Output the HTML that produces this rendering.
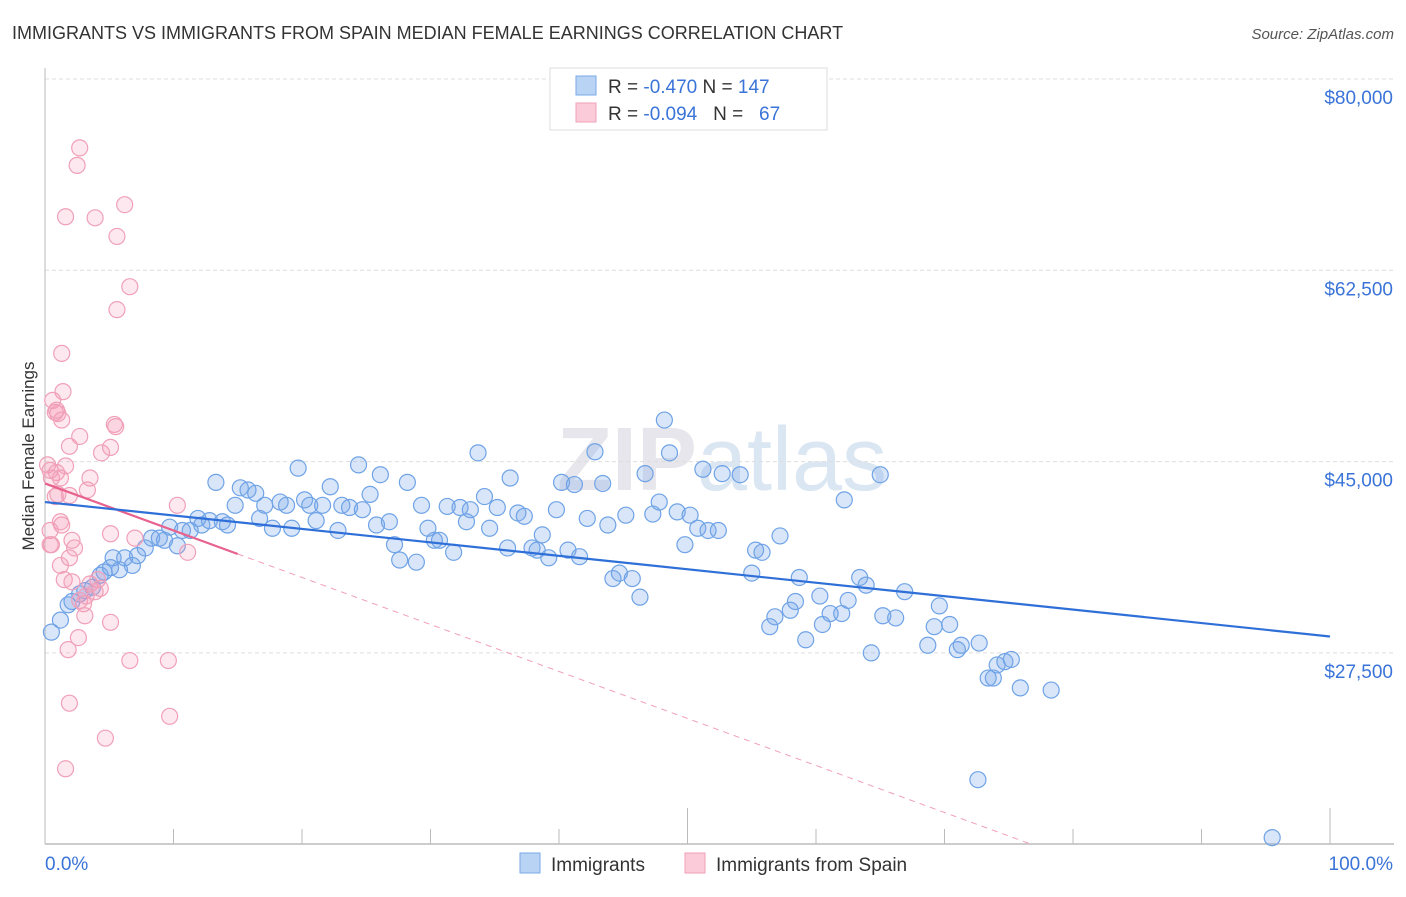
<!DOCTYPE html>
<html><head><meta charset="utf-8"><style>
body{margin:0;background:#fff;font-family:"Liberation Sans",sans-serif;}
svg text{font-family:"Liberation Sans",sans-serif;}
</style></head><body>
<svg id="chart" width="1406" height="892" xmlns="http://www.w3.org/2000/svg">
<text x="12" y="39" font-size="18" fill="#333">IMMIGRANTS VS IMMIGRANTS FROM SPAIN MEDIAN FEMALE EARNINGS CORRELATION CHART</text>
<text x="1394" y="39" font-size="15" fill="#555" text-anchor="end" font-style="italic">Source: ZipAtlas.com</text>
<text x="722" y="490" font-size="90" fill="#e6e6ec" text-anchor="middle" font-weight="bold">ZIP<tspan font-weight="normal" fill="#dbe6f3">atlas</tspan></text>
<text transform="translate(34,456) rotate(-90)" font-size="17" fill="#333" text-anchor="middle">Median Female Earnings</text>
<g id="grid"></g><g id="axes"></g><g id="marks"></g>
<g>
<rect x="550" y="68" width="277" height="62" fill="#fff" stroke="#ddd"/>
<rect x="576" y="76" width="20" height="19" fill="#b9d3f5" stroke="#7aaae8"/>
<text x="608" y="93" font-size="19" fill="#333">R = <tspan fill="#3a74d8">-0.470</tspan>   N = <tspan fill="#3a74d8">147</tspan></text>
<rect x="576" y="103" width="20" height="19" fill="#fbcbd9" stroke="#f0a0b8"/>
<text x="608" y="120" font-size="19" fill="#333" xml:space="preserve">R = <tspan fill="#3a74d8">-0.094</tspan>   N =   <tspan fill="#3a74d8">67</tspan></text>
</g>
<g>
<rect x="520" y="853" width="20" height="20" fill="#b9d3f5" stroke="#7aaae8"/>
<text x="551" y="871" font-size="19" fill="#333">Immigrants</text>
<rect x="685" y="853" width="20" height="20" fill="#fbcbd9" stroke="#f0a0b8"/>
<text x="716" y="871" font-size="19" fill="#333">Immigrants from Spain</text>
</g>
</svg>
<script>
const yTicks=[80000,62500,45000,27500];
const yTickLabels=["$80,000","$62,500","$45,000","$27,500"];
const xTickLabels=["0.0%","100.0%"];
const blueX=[0.5,1.2,1.8,2.1,2.7,3.1,3.7,4.3,4.6,5.1,5.3,5.8,6.2,6.8,7.2,7.8,8.3,8.9,9.3,9.7,10.3,10.7,11.3,11.9,12.2,12.8,13.3,13.8,14.2,14.8,15.2,15.8,16.4,16.7,17.1,17.7,18.3,18.8,19.2,19.7,20.2,20.6,21.1,21.6,22.2,22.8,23.1,23.7,24.4,24.7,25.3,25.8,26.1,26.8,27.2,27.6,28.2,28.9,29.3,29.8,30.3,30.7,31.3,31.8,32.3,32.8,33.1,33.7,34.2,34.6,35.2,36.0,36.2,36.8,37.3,37.9,38.3,38.7,39.2,39.8,40.2,40.7,41.2,41.6,42.2,42.8,43.4,43.8,44.2,44.7,45.2,45.7,46.3,46.7,47.3,47.8,48.2,48.6,49.2,49.8,50.2,50.8,51.2,51.6,52.4,52.7,54.1,55.0,55.3,55.8,56.4,56.8,57.2,58.0,58.4,59.2,58.7,60.3,60.5,61.1,62.0,62.5,63.4,63.9,64.3,65.0,65.2,66.2,66.9,68.7,69.2,69.6,70.4,71.0,71.3,72.7,73.4,73.8,74.1,74.7,75.2,75.9,78.3,72.6,95.5,62.2];
const blueY=[29.4,30.5,31.9,32.2,32.9,33.2,33.5,34.6,34.9,35.3,36.2,35.1,36.2,35.5,36.4,37.1,38.0,38.0,37.8,39.0,37.3,38.7,38.7,39.8,39.2,39.6,43.1,39.5,39.2,41.0,42.6,42.4,42.1,39.8,41.0,38.9,41.3,41.0,38.9,44.4,41.5,41.0,39.6,41.0,42.7,38.7,41.0,40.8,44.7,40.6,42.0,39.2,43.8,39.5,37.4,36.0,43.1,35.8,41.0,38.9,37.8,37.8,40.9,36.7,40.8,39.5,40.6,45.8,41.8,38.9,40.8,37.1,43.5,40.3,40.0,37.1,36.9,38.3,36.2,40.6,43.1,36.9,42.9,36.3,39.8,45.9,43.0,39.2,34.3,34.8,40.1,34.3,32.6,43.9,40.2,41.3,48.8,45.8,40.4,37.4,40.1,38.9,44.3,38.7,38.7,43.9,43.8,34.8,36.9,36.7,29.9,30.8,38.2,31.4,32.2,28.7,34.4,32.7,30.1,31.1,31.1,32.3,34.4,33.7,27.5,43.8,30.9,30.7,33.1,28.2,29.9,31.8,30.1,27.8,28.2,28.4,25.2,25.2,26.4,26.7,26.9,24.3,24.1,15.9,10.6,41.5];
const pinkX=[2.7,2.5,1.6,3.9,6.2,5.6,6.6,5.6,1.3,1.4,0.6,0.8,1.0,1.3,0.9,5.4,5.5,1.9,2.7,5.1,4.4,0.2,0.4,0.9,1.6,0.5,1.2,3.5,3.3,0.8,1.0,1.9,1.3,1.2,0.4,0.5,0.4,2.1,2.3,1.9,1.2,1.5,2.1,3.5,4.1,4.3,2.7,3.0,3.1,5.1,2.6,1.8,6.6,9.6,1.9,4.7,9.7,1.6,10.3,11.1,7.0,5.1,3.9,3.2];
const pinkY=[73.7,72.1,67.4,67.3,68.5,65.6,61.0,58.9,54.9,51.4,50.6,49.5,49.4,48.8,49.7,48.4,48.2,46.4,47.3,46.3,45.8,44.7,44.2,44.0,44.6,43.5,43.5,43.5,42.4,41.8,42.0,41.9,39.2,39.5,38.7,37.4,37.4,37.8,37.1,36.2,35.5,34.2,34.0,33.8,34.2,33.4,32.3,32.0,30.9,30.3,28.9,27.8,26.8,26.8,22.9,19.7,21.7,16.9,41.0,36.7,38.0,38.4,33.1,32.7];
const blueTrend=[41.3,29.0];
const pinkTrend=[43.0,0.0];
const pinkSolidEnd=15;

const NS="http://www.w3.org/2000/svg";
const X0=45,X1=1330,YB=844;
const xs=p=>X0+(X1-X0)*p/100;
const ys=k=>79+(80-k)*1000*191.3/17500;
function mk(tag,attrs,parent){const e=document.createElementNS(NS,tag);for(const k in attrs)e.setAttribute(k,attrs[k]);document.getElementById(parent).appendChild(e);return e;}
yTicks.forEach((v,i)=>{
 const y=ys(v/1000);
 const g=mk('line',{x1:X0,x2:1394,y1:y,y2:y,stroke:'#ddd','stroke-dasharray':'4,3'},'grid');
 
 
 const t=mk('text',{x:1393,y:y+25,'font-size':19,fill:'#3a74d8','text-anchor':'end'},'axes');
 t.textContent=yTickLabels[i];
 
 
});
let ax=mk('line',{x1:X0,x2:X0,y1:68,y2:YB,stroke:'#bbb'},'axes');


ax=mk('line',{x1:X0,x2:1394,y1:YB,y2:YB,stroke:'#bbb','stroke-width':1.5},'axes');


for(let i=0;i<=10;i++){
 const x=xs(i*10);
 const tk=mk('line',{x1:x,x2:x,y1:(i%5==0?808:829),y2:YB,stroke:'#bbb'},'axes');
 
 
}
[0,100].forEach((p,i)=>{
 const t=mk('text',{x:i?1393:45,y:870,'font-size':19,fill:'#3a74d8','text-anchor':i?'end':'start'},'axes');
 t.textContent=xTickLabels[i];
 
 
});
blueX.forEach((x,i)=>{
 const c=mk('circle',{cx:xs(x),cy:ys(blueY[i]),r:8,fill:'rgba(120,165,235,0.28)',stroke:'#6fa3e6','stroke-width':1.2},'marks');
 
 
});
pinkX.forEach((x,i)=>{
 const c=mk('circle',{cx:xs(x),cy:ys(pinkY[i]),r:8,fill:'rgba(245,150,180,0.22)',stroke:'#f0a0b8','stroke-width':1.2},'marks');
 
 
});
const pk=p=>pinkTrend[0]+(pinkTrend[1]-pinkTrend[0])*p/100;
const pEnd=(pinkTrend[0]-10)/(pinkTrend[0]-pinkTrend[1])*100;
let l=mk('line',{x1:xs(pinkSolidEnd),y1:ys(pk(pinkSolidEnd)),x2:xs(pEnd),y2:ys(pk(pEnd)),stroke:'#f0a0b8','stroke-width':1,'stroke-dasharray':'6,5'},'marks');


l=mk('line',{x1:xs(0),y1:ys(pk(0)),x2:xs(pinkSolidEnd),y2:ys(pk(pinkSolidEnd)),stroke:'#e8628e','stroke-width':2.2},'marks');


l=mk('line',{x1:xs(0),y1:ys(blueTrend[0]),x2:xs(100),y2:ys(blueTrend[1]),stroke:'#2f6fd8','stroke-width':2.2},'marks');


</script>
</body></html>
